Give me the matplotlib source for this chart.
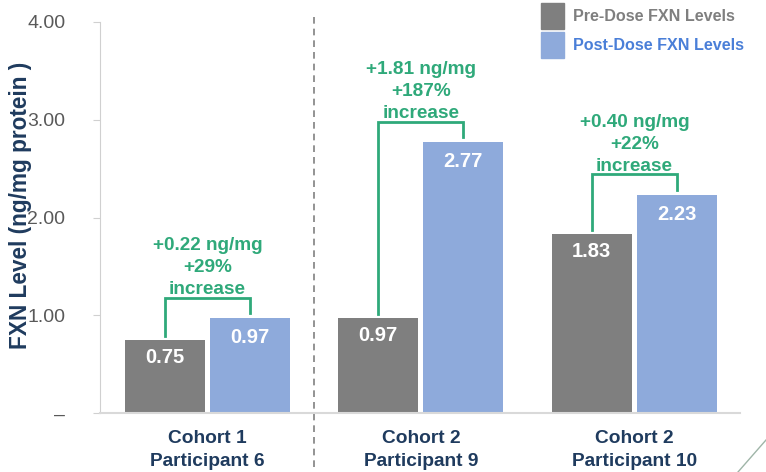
import matplotlib.pyplot as plt
from matplotlib.patches import Patch
from matplotlib.lines import Line2D
import numpy as np

plt.rcParams['font.family'] = ['Liberation Sans', 'DejaVu Sans']

groups = ['Cohort 1\nParticipant 6', 'Cohort 2\nParticipant 9', 'Cohort 2\nParticipant 10']
pre_dose = [0.75, 0.97, 1.83]
post_dose = [0.97, 2.77, 2.23]
change_text = ['+0.22 ng/mg\n+29%\nincrease',
               '+1.81 ng/mg\n+187%\nincrease',
               '+0.40 ng/mg\n+22%\nincrease']
y_ticks = [0, 1, 2, 3, 4]
y_tick_labels = ['–', '1.00', '2.00', '3.00', '4.00']

PRE_COLOR = '#7f7f7f'
POST_COLOR = '#8eaadb'
GREEN = '#2fa97a'
NAVY = '#1f3b5e'

fig = plt.figure(figsize=(7.66, 4.72), dpi=100)
ax = fig.add_axes([100 / 766, 59 / 472, 640 / 766, 391 / 472])

x = np.arange(len(groups))
w = 0.375
off = 0.199
ax.bar(x - off, pre_dose, w, color=PRE_COLOR, label='Pre-Dose FXN Levels')
ax.bar(x + off, post_dose, w, color=POST_COLOR, label='Post-Dose FXN Levels')

# values inside the bars
for xi, v in zip(x - off, pre_dose):
    ax.text(xi, v - 0.18, f'{v:.2f}', ha='center', va='center', color='white',
            fontsize=14.5, fontweight='bold')
for xi, v in zip(x + off, post_dose):
    ax.text(xi, v - 0.2, f'{v:.2f}', ha='center', va='center', color='white',
            fontsize=14.5, fontweight='bold')

# brackets between pre and post bars
for xi, a, b, txt in zip(x, pre_dose, post_dose, change_text):
    top = b + 0.21
    ax.plot([xi - off, xi - off, xi + off, xi + off], [a + 0.04, top, top, b + 0.05],
            color=GREEN, lw=2, solid_joinstyle='miter')
    ax.text(xi, top - 0.005, txt, ha='center', va='bottom', color=GREEN,
            fontsize=13.7, fontweight='bold', linespacing=1.38)

# separator between cohort 1 and cohort 2
ax.plot([0.5, 0.5], [4.05, -0.56], color='#808080', lw=1.2, ls=(0, (4, 3)), clip_on=False)

ax.set_xlim(-0.503, 2.495)
ax.set_ylim(0, 4)
ax.set_xticks(x)
ax.set_xticklabels(groups, fontsize=13.8, fontweight='bold', color=NAVY, linespacing=1.5)
ax.tick_params(axis='x', length=0, pad=12)
ax.set_yticks(y_ticks)
ax.set_yticklabels(y_tick_labels, fontsize=14, color='#595959')
ax.tick_params(axis='y', length=5, color='#d0d0d0', pad=20)
fig.text(21 / 766, 1 - 205 / 472, 'FXN Level (ng/mg protein )', rotation=90,
         ha='center', va='center', fontsize=16.3, fontweight='bold', color=NAVY)

for s in ['top', 'right']:
    ax.spines[s].set_visible(False)
ax.spines['left'].set_color('#d0d0d0')
ax.spines['bottom'].set_color('#d9d9d9')
ax.spines['bottom'].set_linewidth(1.5)

handles = [Patch(color=PRE_COLOR), Patch(color=POST_COLOR)]
leg = fig.legend(handles, ['Pre-Dose FXN Levels', 'Post-Dose FXN Levels'],
                 loc='upper left', bbox_to_anchor=(541 / 766, 1 - 3 / 472), frameon=False,
                 borderpad=0, borderaxespad=0,
                 handlelength=1.4, handleheight=2.15, handletextpad=0.6, labelspacing=0.15,
                 prop={'size': 11.6, 'weight': 'bold'})
for t, c in zip(leg.get_texts(), ['#7f7f7f', '#4a7fd8']):
    t.set_color(c)

# corner decoration line
fig.add_artist(Line2D([738 / 766, 1.0], [0, 32 / 472], color='#9fb5a8', lw=1))

fig.savefig('out.png', dpi=100)
